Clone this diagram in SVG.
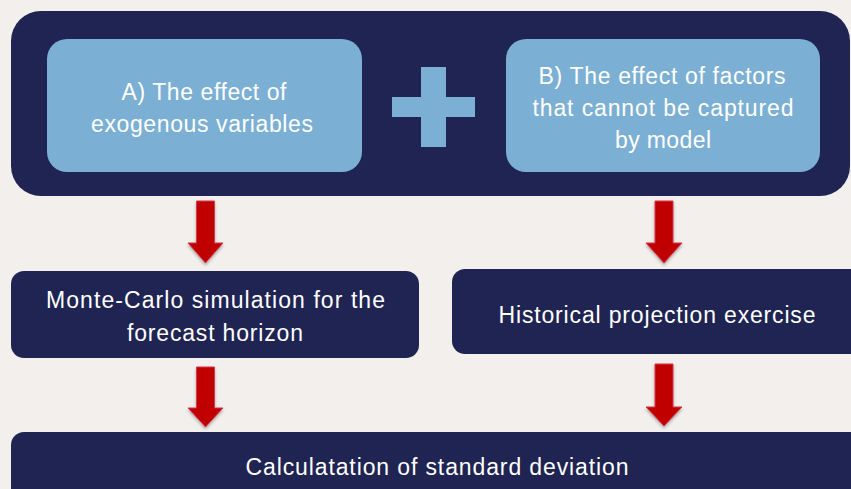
<svg xmlns="http://www.w3.org/2000/svg" width="851" height="489" viewBox="0 0 851 489">
<defs>
<style>
.dark{fill:#1F2452;}
.light{fill:#7BAFD4;}
.t{font-family:"Liberation Sans",Arial,sans-serif;font-size:23px;fill:#FFFFFF;text-anchor:middle;}
.arr{fill:#C00000;stroke:#D23A50;stroke-width:1;}
</style>
<filter id="sh" x="-30%" y="-10%" width="160%" height="130%">
<feDropShadow dx="0" dy="2" stdDeviation="1.5" flood-color="#000000" flood-opacity="0.3"/>
</filter>
</defs>
<rect x="0" y="0" width="851" height="489" fill="#F3EFEC"/>
<g id="panel">
<rect class="dark" x="11" y="11" width="839" height="185" rx="30" ry="30"/>
</g>
<g id="nodeA">
<rect class="light" x="47" y="39" width="315" height="133" rx="20" ry="20"/>
<text class="t" x="204" y="100" textLength="165">A) The effect of</text>
<text class="t" x="202" y="132" textLength="222">exogenous variables</text>
</g>
<g id="plus">
<rect class="light" x="392" y="97" width="83" height="20"/>
<rect class="light" x="421" y="67" width="25" height="80"/>
</g>
<g id="nodeB">
<rect class="light" x="506" y="39" width="314" height="133" rx="20" ry="20"/>
<text class="t" x="662" y="84" textLength="247">B) The effect of factors</text>
<text class="t" x="663" y="116" textLength="261">that cannot be captured</text>
<text class="t" x="663" y="148" textLength="96">by model</text>
</g>
<g id="nodeMC">
<rect class="dark" x="11" y="271" width="408" height="87" rx="13" ry="13"/>
<text class="t" x="215.5" y="308" textLength="339">Monte-Carlo simulation for the</text>
<text class="t" x="215" y="341" textLength="176">forecast horizon</text>
</g>
<g id="nodeHist">
<rect class="dark" x="452" y="269" width="412" height="85" rx="13" ry="13"/>
<text class="t" x="657" y="323" textLength="317">Historical projection exercise</text>
</g>
<g id="nodeStd">
<rect class="dark" x="11" y="432" width="860" height="80" rx="13" ry="13"/>
<text class="t" x="437" y="475" textLength="383">Calculatation of standard deviation</text>
</g>
<g id="connectors" filter="url(#sh)">
<polygon class="arr" points="196.5,201 214.5,201 214.5,243 223,243 205.5,263 188,243 196.5,243"/>
<polygon class="arr" points="655,201 673,201 673,243 682,243 664,263 646,243 655,243"/>
<polygon class="arr" points="196.5,367 214.5,367 214.5,408 223,408 205.5,427 188,408 196.5,408"/>
<polygon class="arr" points="655,364 673,364 673,407 682,407 664,426 646,407 655,407"/>
</g>
</svg>
